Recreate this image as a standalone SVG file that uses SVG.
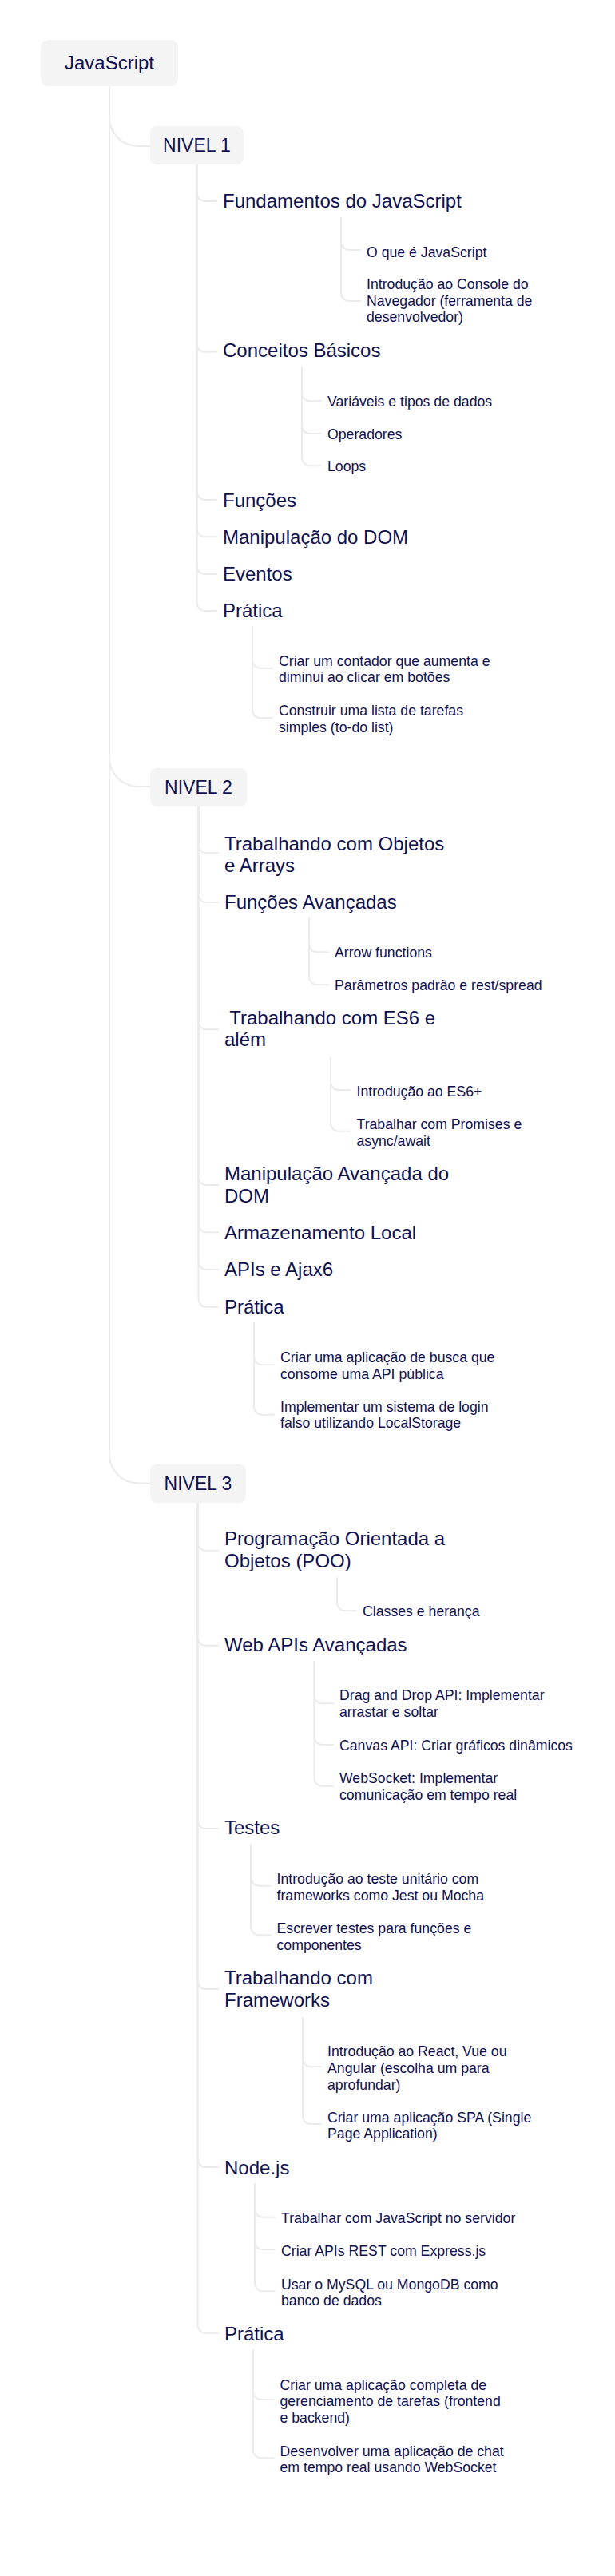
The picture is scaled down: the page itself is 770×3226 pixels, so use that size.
<svg xmlns="http://www.w3.org/2000/svg" width="770" height="3226" viewBox="0 0 770 3226">
<style>
.c{fill:none;stroke:#ebebee;stroke-width:2;stroke-linecap:round}
.box{fill:#f4f4f5}
text{font-family:"Liberation Sans",Arial,sans-serif;fill:#11114f}
.t0{font-size:24px}
.tn{font-size:23px}
.t2{font-size:24px}
.t3{font-size:17.7px}
</style>
<rect width="770" height="3226" fill="#ffffff"/>
<g id="connectors">
<path class="c" d="M137,108 V147 A36,36 0 0 0 173,183 H188"/>
<path class="c" d="M137,108 V949 A36,36 0 0 0 173,985 H188"/>
<path class="c" d="M137,108 V1821.5 A36,36 0 0 0 173,1857.5 H188"/>
<path class="c" d="M246.5,206 V242 A10,10 0 0 0 256.5,252 H271"/>
<path class="c" d="M246.5,206 V430.7 A10,10 0 0 0 256.5,440.7 H271"/>
<path class="c" d="M246.5,206 V616 A10,10 0 0 0 256.5,626 H271"/>
<path class="c" d="M246.5,206 V662.3 A10,10 0 0 0 256.5,672.3 H271"/>
<path class="c" d="M246.5,206 V709 A10,10 0 0 0 256.5,719 H271"/>
<path class="c" d="M246.5,206 V755 A10,10 0 0 0 256.5,765 H271"/>
<path class="c" d="M427,273 V303 A10,10 0 0 0 437,313 H451"/>
<path class="c" d="M427,273 V367 A10,10 0 0 0 437,377 H451"/>
<path class="c" d="M378,460 V492.3 A10,10 0 0 0 388,502.3 H402"/>
<path class="c" d="M378,460 V533 A10,10 0 0 0 388,543 H402"/>
<path class="c" d="M378,460 V573.3 A10,10 0 0 0 388,583.3 H402"/>
<path class="c" d="M316,785 V826.7 A10,10 0 0 0 326,836.7 H341"/>
<path class="c" d="M316,785 V889.3 A10,10 0 0 0 326,899.3 H341"/>
<path class="c" d="M248.5,1010 V1058.3 A10,10 0 0 0 258.5,1068.3 H273"/>
<path class="c" d="M248.5,1010 V1120 A10,10 0 0 0 258.5,1130 H273"/>
<path class="c" d="M248.5,1010 V1279.3 A10,10 0 0 0 258.5,1289.3 H273"/>
<path class="c" d="M248.5,1010 V1474 A10,10 0 0 0 258.5,1484 H273"/>
<path class="c" d="M248.5,1010 V1533.3 A10,10 0 0 0 258.5,1543.3 H273"/>
<path class="c" d="M248.5,1010 V1580 A10,10 0 0 0 258.5,1590 H273"/>
<path class="c" d="M248.5,1010 V1626.7 A10,10 0 0 0 258.5,1636.7 H273"/>
<path class="c" d="M387,1150 V1182.3 A10,10 0 0 0 397,1192.3 H411"/>
<path class="c" d="M387,1150 V1223.3 A10,10 0 0 0 397,1233.3 H411"/>
<path class="c" d="M414,1325 V1355 A10,10 0 0 0 424,1365 H438.5"/>
<path class="c" d="M414,1325 V1406.7 A10,10 0 0 0 424,1416.7 H438.5"/>
<path class="c" d="M318,1657 V1699.3 A10,10 0 0 0 328,1709.3 H343"/>
<path class="c" d="M318,1657 V1761.7 A10,10 0 0 0 328,1771.7 H343"/>
<path class="c" d="M247.5,1882 V1931.7 A10,10 0 0 0 257.5,1941.7 H273"/>
<path class="c" d="M247.5,1882 V2050.7 A10,10 0 0 0 257.5,2060.7 H273"/>
<path class="c" d="M247.5,1882 V2280 A10,10 0 0 0 257.5,2290 H273"/>
<path class="c" d="M247.5,1882 V2481 A10,10 0 0 0 257.5,2491 H273"/>
<path class="c" d="M247.5,1882 V2704 A10,10 0 0 0 257.5,2714 H273"/>
<path class="c" d="M247.5,1882 V2911.7 A10,10 0 0 0 257.5,2921.7 H273"/>
<path class="c" d="M422,1976 V2007.3 A10,10 0 0 0 432,2017.3 H446"/>
<path class="c" d="M393.5,2081 V2123.3 A10,10 0 0 0 403.5,2133.3 H417"/>
<path class="c" d="M393.5,2081 V2175 A10,10 0 0 0 403.5,2185 H417"/>
<path class="c" d="M393.5,2081 V2226.7 A10,10 0 0 0 403.5,2236.7 H417"/>
<path class="c" d="M314,2310 V2351.7 A10,10 0 0 0 324,2361.7 H338.5"/>
<path class="c" d="M314,2310 V2413.3 A10,10 0 0 0 324,2423.3 H338.5"/>
<path class="c" d="M379,2527 V2578.3 A10,10 0 0 0 389,2588.3 H402"/>
<path class="c" d="M379,2527 V2650 A10,10 0 0 0 389,2660 H402"/>
<path class="c" d="M319,2735 V2766.7 A10,10 0 0 0 329,2776.7 H344"/>
<path class="c" d="M319,2735 V2807.3 A10,10 0 0 0 329,2817.3 H344"/>
<path class="c" d="M319,2735 V2859.3 A10,10 0 0 0 329,2869.3 H344"/>
<path class="c" d="M317,2943 V2995 A10,10 0 0 0 327,3005 H342.5"/>
<path class="c" d="M317,2943 V3068.3 A10,10 0 0 0 327,3078.3 H342.5"/>
</g>
<g id="n-root"><rect class="box" x="51" y="50" width="172" height="58" rx="9"/><text class="t0" x="137" y="87" text-anchor="middle">JavaScript</text></g>
<g id="n-nivel1"><rect class="box" x="188" y="158" width="117" height="48" rx="8"/><text class="tn" x="246.5" y="190" text-anchor="middle">NIVEL 1</text></g>
<g id="n-fundamentos"><text class="t2" x="279" y="260">Fundamentos do JavaScript</text></g>
<g id="n-oque"><text class="t3" x="459" y="321.7">O que é JavaScript</text></g>
<g id="n-console"><text class="t3" x="459" y="361.7">Introdução ao Console do<tspan x="459" y="382.7">Navegador (ferramenta de</tspan><tspan x="459" y="403.3">desenvolvedor)</tspan></text></g>
<g id="n-conceitos"><text class="t2" x="279" y="447">Conceitos Básicos</text></g>
<g id="n-variaveis"><text class="t3" x="410" y="508.5">Variáveis e tipos de dados</text></g>
<g id="n-operadores"><text class="t3" x="410" y="550">Operadores</text></g>
<g id="n-loops"><text class="t3" x="410" y="590">Loops</text></g>
<g id="n-funcoes"><text class="t2" x="279" y="634.5">Funções</text></g>
<g id="n-dom"><text class="t2" x="279" y="680.5">Manipulação do DOM</text></g>
<g id="n-eventos"><text class="t2" x="279" y="726.7">Eventos</text></g>
<g id="n-pratica1"><text class="t2" x="279" y="773.3">Prática</text></g>
<g id="n-contador"><text class="t3" x="349" y="834">Criar um contador que aumenta e<tspan x="349" y="854.3">diminui ao clicar em botões</tspan></text></g>
<g id="n-todo"><text class="t3" x="349" y="896">Construir uma lista de tarefas<tspan x="349" y="916.7">simples (to-do list)</tspan></text></g>
<g id="n-nivel2"><rect class="box" x="188" y="962" width="121" height="48" rx="8"/><text class="tn" x="248.5" y="993.5" text-anchor="middle">NIVEL 2</text></g>
<g id="n-objetos"><text class="t2" x="281" y="1065">Trabalhando com Objetos<tspan x="281" y="1091.7">e Arrays</tspan></text></g>
<g id="n-funcadv"><text class="t2" x="281" y="1138.3">Funções Avançadas</text></g>
<g id="n-arrow"><text class="t3" x="419" y="1199">Arrow functions</text></g>
<g id="n-params"><text class="t3" x="419" y="1240">Parâmetros padrão e rest/spread</text></g>
<g id="n-es6"><text class="t2" x="281" y="1283.3" xml:space="preserve"> Trabalhando com ES6 e<tspan x="281" y="1310">além</tspan></text></g>
<g id="n-introes6"><text class="t3" x="446.5" y="1373.3">Introdução ao ES6+</text></g>
<g id="n-promises"><text class="t3" x="446.5" y="1414">Trabalhar com Promises e<tspan x="446.5" y="1435">async/await</tspan></text></g>
<g id="n-domadv"><text class="t2" x="281" y="1478.3">Manipulação Avançada do<tspan x="281" y="1506">DOM</tspan></text></g>
<g id="n-storage"><text class="t2" x="281" y="1551.7">Armazenamento Local</text></g>
<g id="n-apis"><text class="t2" x="281" y="1598.3">APIs e Ajax6</text></g>
<g id="n-pratica2"><text class="t2" x="281" y="1645">Prática</text></g>
<g id="n-busca"><text class="t3" x="351" y="1706">Criar uma aplicação de busca que<tspan x="351" y="1726.7">consome uma API pública</tspan></text></g>
<g id="n-login"><text class="t3" x="351" y="1768.3">Implementar um sistema de login<tspan x="351" y="1788.3">falso utilizando LocalStorage</tspan></text></g>
<g id="n-nivel3"><rect class="box" x="188" y="1834" width="120" height="48" rx="8"/><text class="tn" x="248" y="1866" text-anchor="middle">NIVEL 3</text></g>
<g id="n-poo"><text class="t2" x="281" y="1935">Programação Orientada a<tspan x="281" y="1962.7">Objetos (POO)</tspan></text></g>
<g id="n-classes"><text class="t3" x="454" y="2024">Classes e herança</text></g>
<g id="n-webapis"><text class="t2" x="281" y="2068.3">Web APIs Avançadas</text></g>
<g id="n-dragdrop"><text class="t3" x="425" y="2129.3">Drag and Drop API: Implementar<tspan x="425" y="2150">arrastar e soltar</tspan></text></g>
<g id="n-canvas"><text class="t3" x="425" y="2191.7">Canvas API: Criar gráficos dinâmicos</text></g>
<g id="n-websocket"><text class="t3" x="425" y="2233.3">WebSocket: Implementar<tspan x="425" y="2254.3">comunicação em tempo real</tspan></text></g>
<g id="n-testes"><text class="t2" x="281" y="2296.7">Testes</text></g>
<g id="n-unitario"><text class="t3" x="346.5" y="2359.3">Introdução ao teste unitário com<tspan x="346.5" y="2380">frameworks como Jest ou Mocha</tspan></text></g>
<g id="n-escrever"><text class="t3" x="346.5" y="2421">Escrever testes para funções e<tspan x="346.5" y="2441.7">componentes</tspan></text></g>
<g id="n-frameworks"><text class="t2" x="281" y="2485">Trabalhando com<tspan x="281" y="2513.3">Frameworks</tspan></text></g>
<g id="n-react"><text class="t3" x="410" y="2575">Introdução ao React, Vue ou<tspan x="410" y="2595.7">Angular (escolha um para</tspan><tspan x="410" y="2616.7">aprofundar)</tspan></text></g>
<g id="n-spa"><text class="t3" x="410" y="2658.3">Criar uma aplicação SPA (Single<tspan x="410" y="2678.3">Page Application)</tspan></text></g>
<g id="n-node"><text class="t2" x="281" y="2722.7">Node.js</text></g>
<g id="n-servidor"><text class="t3" x="352" y="2784">Trabalhar com JavaScript no servidor</text></g>
<g id="n-express"><text class="t3" x="352" y="2825">Criar APIs REST com Express.js</text></g>
<g id="n-mysql"><text class="t3" x="352" y="2866.7">Usar o MySQL ou MongoDB como<tspan x="352" y="2886.7">banco de dados</tspan></text></g>
<g id="n-pratica3"><text class="t2" x="281" y="2930.7">Prática</text></g>
<g id="n-completa"><text class="t3" x="350.5" y="2992.7">Criar uma aplicação completa de<tspan x="350.5" y="3013.3">gerenciamento de tarefas (frontend</tspan><tspan x="350.5" y="3034">e backend)</tspan></text></g>
<g id="n-chat"><text class="t3" x="350.5" y="3076">Desenvolver uma aplicação de chat<tspan x="350.5" y="3096">em tempo real usando WebSocket</tspan></text></g>
</svg>
